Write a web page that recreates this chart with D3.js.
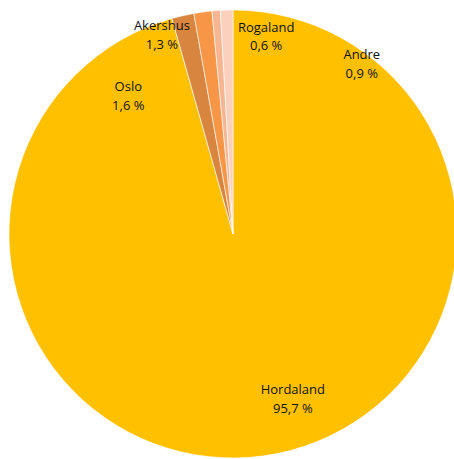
<!DOCTYPE html>
<html lang="no">
<head>
<meta charset="UTF-8">
<title>Fordeling etter fylke</title>
<style>
    body { margin: 0; background: #fff; }
    text {
        font-family: "Open Sans", Calibri, sans-serif;
        font-size: 13px;
        fill: #111;
    }
    .slices path {
        stroke: #fff;
        stroke-width: 0.6px;
    }
</style>
</head>
<body>
<svg width="454" height="459"></svg>

<script src="https://d3js.org/d3.v7.min.js"></script>
<script>
    // data, clockwise from 12 o'clock
    var regions = ["Hordaland", "Oslo", "Akershus", "Rogaland", "Andre"];
    var shares = [95.7, 1.6, 1.3, 0.6, 0.9];
    var shareLabels = ["95,7 %", "1,6 %", "1,3 %", "0,6 %", "0,9 %"];
    var sliceColors = ["#FFC000", "#D8853F", "#F79646", "#F8B592", "#FBD0BD"];

    var svg = d3.select("svg"),
        cx = 233,
        cy = 234,
        radius = 224;

    var color = d3.scaleOrdinal().domain(regions).range(sliceColors);

    var rows = regions.map(function (r, i) {
        return { name: r, value: shares[i], label: shareLabels[i] };
    });

    var pie = d3.pie()
        .sort(null)
        .value(function (d) { return d.value; });

    var arc = d3.arc()
        .innerRadius(0)
        .outerRadius(radius);

    var g = svg.append("g")
        .attr("transform", "translate(" + cx + "," + cy + ")");

    var arcs = pie(rows);

    g.append("g")
        .attr("class", "slices")
        .selectAll("path")
        .data(arcs)
        .enter().append("path")
        .attr("d", arc)
        .attr("fill", function (d) { return color(d.data.name); });

    // label placement (angle in degrees clockwise from top, distance from centre)
    // excel's "best fit" puts these by hand, so they don't follow the centroids
    var labelSpot = {
        "Hordaland": [160, 175],
        "Oslo": [-37, 174],
        "Akershus": [-19.6, 212],
        "Rogaland": [9.5, 201],
        "Andre": [37, 214]
    };

    var labels = g.append("g")
        .attr("class", "labels")
        .selectAll("text")
        .data(arcs)
        .enter().append("text")
        .attr("text-anchor", "middle")
        .attr("transform", function (d) {
            var s = labelSpot[d.data.name],
                a = s[0] * Math.PI / 180;
            return "translate(" + (s[1] * Math.sin(a)) + "," + (-s[1] * Math.cos(a)) + ")";
        });

    labels.append("tspan")
        .attr("x", 0)
        .attr("y", -4)
        .text(function (d) { return d.data.name; });

    labels.append("tspan")
        .attr("x", 0)
        .attr("y", 14.5)
        .text(function (d) { return d.data.label; });
</script>
</body>
</html>
